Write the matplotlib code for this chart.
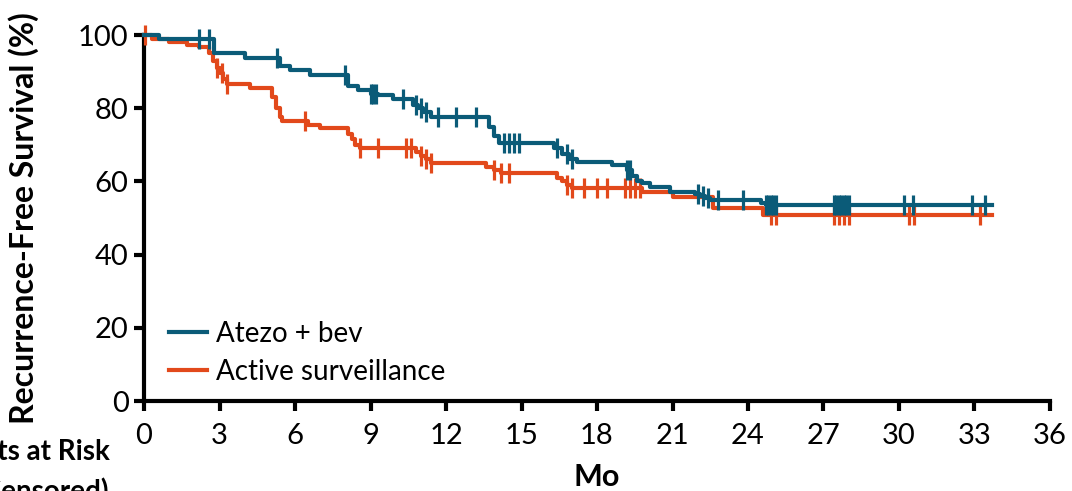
import matplotlib
matplotlib.use("Agg")
import matplotlib.pyplot as plt

plt.rcParams['font.family'] = ['Lato', 'DejaVu Sans']

# ---- data ----
atezo_t = [0, 0.6, 2.8, 4.0, 5.4, 5.8, 6.6, 8.1, 8.5, 9.0, 9.3, 9.9, 10.7, 10.9, 11.1, 11.4,
           13.7, 13.9, 14.1, 16.3, 16.6, 16.9, 17.2, 18.6, 19.2, 19.4, 19.6, 19.8, 20.1, 20.9,
           21.9, 22.1, 22.3, 22.5, 24.5, 24.7, 33.7]
atezo_s = [100, 98.8, 95.0, 93.7, 91.5, 90.4, 89.0, 86.0, 85.0, 84.0, 83.5, 82.4, 81.0, 80.0, 79.0, 77.5,
           75.0, 72.5, 70.5, 69.0, 67.5, 66.0, 65.3, 64.6, 63.0, 61.5, 60.2, 59.6, 58.5, 57.1,
           56.5, 56.0, 55.5, 55.0, 54.2, 53.6, 53.6]
atezo_cens = [2.2, 2.6, 5.3, 8.0, 9.0, 9.1, 9.2, 10.3, 10.8, 11.0, 11.2, 11.7, 12.4, 13.2,
              14.3, 14.5, 14.7, 14.9, 16.4, 16.8, 17.0, 19.2, 19.3, 22.0, 22.2, 22.4, 22.8, 23.8,
              24.7, 24.8, 24.9, 25.0, 25.1, 27.4, 27.5, 27.6, 27.7, 27.8, 27.9, 28.0,
              30.2, 30.55, 32.9, 33.4]

surv_t = [0, 0.3, 1.0, 1.7, 2.2, 2.6, 2.75, 2.9, 3.0, 3.15, 3.3, 4.2, 5.1, 5.25, 5.4, 5.5,
          6.5, 7.0, 8.1, 8.25, 8.4, 8.6, 10.8, 11.0, 11.2, 11.4, 13.6, 13.9, 14.2, 16.4,
          16.6, 16.8, 17.0, 19.8, 21.0, 22.6, 24.6, 33.7]
surv_s = [100, 99.0, 98.0, 97.3, 96.7, 95.0, 93.0, 91.0, 89.5, 88.0, 86.5, 85.5, 83.0, 80.0, 77.5, 76.5,
          75.5, 74.6, 73.0, 71.5, 70.0, 69.2, 68.0, 67.0, 66.0, 65.0, 64.0, 63.0, 62.3, 61.0,
          60.0, 59.0, 58.3, 57.1, 55.8, 52.7, 50.8, 50.8]
surv_cens = [0.05, 2.9, 3.1, 3.3, 6.4, 8.6, 9.3, 10.4, 10.6, 11.0, 11.2, 11.4, 13.9, 14.2, 14.5,
             16.8, 17.0, 17.5, 18.0, 18.4, 19.1, 19.3, 19.5, 19.7, 24.9, 25.1,
             27.4, 27.6, 27.8, 28.0, 30.4, 30.6, 33.2]

xticks = [0, 3, 6, 9, 12, 15, 18, 21, 24, 27, 30, 33, 36]
yticks = [0, 20, 40, 60, 80, 100]

BLUE = '#0b5b78'
ORANGE = '#e2491b'

def step_value(ts, ss, x):
    v = ss[0]
    for t, s in zip(ts, ss):
        if t <= x:
            v = s
        else:
            break
    return v

fig = plt.figure(figsize=(10.72, 4.91), dpi=100)
ax = fig.add_axes([144/1072, 1-401/491, (1050-144)/1072, (401-35)/491])

for ts, ss, cens, col, lab in [(surv_t, surv_s, surv_cens, ORANGE, 'Active surveillance'),
                               (atezo_t, atezo_s, atezo_cens, BLUE, 'Atezo + bev')]:
    ax.step(ts, ss, where='post', color=col, lw=3.0, clip_on=False, label=lab, zorder=3)
    cy = [step_value(ts, ss, c) for c in cens]
    ax.plot(cens, cy, ls='none', marker='|', ms=15, mew=2.3, color=col, clip_on=False, zorder=3)

ax.set_xlim(0, 36)
ax.set_ylim(0, 100)
ax.set_xticks(xticks)
ax.set_yticks(yticks)
for s in ['top', 'right']:
    ax.spines[s].set_visible(False)
for s in ['left', 'bottom']:
    ax.spines[s].set_linewidth(3)
ax.tick_params(axis='both', which='major', direction='out', length=7, width=3,
               labelsize=21, colors='black', pad=3)
ax.tick_params(axis='x', pad=9)
ax.tick_params(axis='y', pad=4)

ax.set_xlabel('Mo', fontsize=22, fontweight='bold', labelpad=10)
ax.set_ylabel('Recurrence-Free Survival (%)', fontsize=23, fontweight='bold', labelpad=6)
ax.yaxis.set_label_coords(-105/906, 0.5)

handles, labels = ax.get_legend_handles_labels()
leg = ax.legend(handles[::-1], labels[::-1], loc='lower left', bbox_to_anchor=(0.0, -0.025),
                frameon=False, fontsize=20, handlelength=1.35, handletextpad=0.35,
                labelspacing=0.45)

fig.text(110/1072, 1-452/491, 'Patients at Risk', ha='right', va='center',
         fontsize=20, fontweight='bold')
fig.text(108/1072, 1-492/491, '(Censored)', ha='right', va='center',
         fontsize=20, fontweight='bold')

fig.savefig('out.png', dpi=100)
